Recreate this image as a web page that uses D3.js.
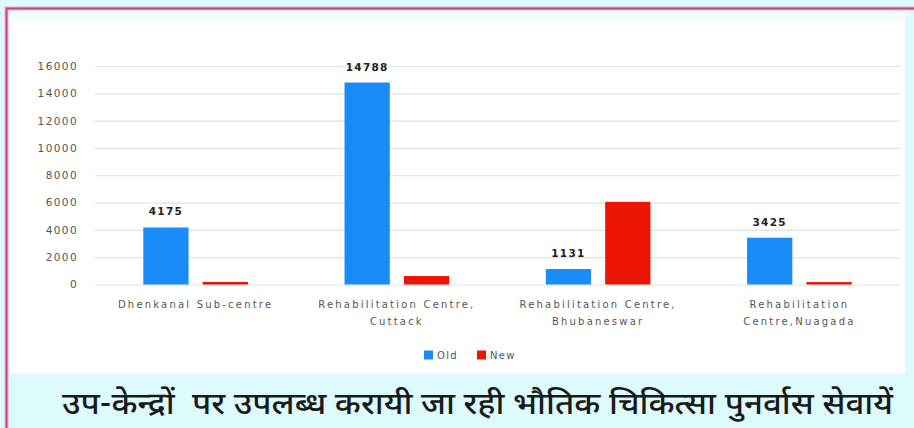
<!DOCTYPE html>
<html>
<head>
<meta charset="utf-8">
<script src="https://cdn.jsdelivr.net/npm/d3@7"></script>
<style>
  html, body { margin: 0; padding: 0; background: #ddfbfd; }
  svg { display: block; }
</style>
</head>
<body>
<svg id="chart" width="914" height="428"></svg>
<script>
const categories = [
  ["Dhenkanal Sub-centre"],
  ["Rehabilitation Centre,", "Cuttack"],
  ["Rehabilitation Centre,", "Bhubaneswar"],
  ["Rehabilitation", "Centre,Nuagada"]
];
const seriesNames = ["Old", "New"];
const oldValues = [4175, 14788, 1131, 3425];
const newValues = [190, 620, 6050, 180];
const yTicks = [0, 2000, 4000, 6000, 8000, 10000, 12000, 14000, 16000];
const title = "उप-केन्द्रों  पर उपलब्ध करायी जा रही भौतिक चिकित्सा पुनर्वास सेवायें";

const colors = { Old: "#1a8cf7", New: "#ec1505" };
const svg = d3.select("#chart");

// frame
svg.append("rect").attr("x", 0).attr("y", 0).attr("width", 914).attr("height", 428).attr("fill", "#ddfbfd");
const grad = svg.append("defs").append("linearGradient").attr("id", "topg").attr("x1", 0).attr("y1", 0).attr("x2", 0).attr("y2", 1);
grad.append("stop").attr("offset", "0%").attr("stop-color", "#e6fcfb");
grad.append("stop").attr("offset", "100%").attr("stop-color", "#ffffff");
svg.append("rect").attr("x", 9).attr("y", 10).attr("width", 896).attr("height", 364).attr("fill", "#ffffff");
svg.append("rect").attr("x", 9).attr("y", 10).attr("width", 896).attr("height", 14).attr("fill", "url(#topg)");
// pink border
svg.append("path").attr("d", "M6.5,428 V8.5 H914").attr("fill", "none").attr("stroke", "#f4b0d2").attr("stroke-width", 4);
svg.append("path").attr("d", "M6.5,428 V8.5 H914").attr("fill", "none").attr("stroke", "#c24a80").attr("stroke-width", 2);

const y = d3.scaleLinear().domain([0, 16000]).range([284.5, 66]);
const x0 = d3.scaleBand().domain(d3.range(categories.length)).range([95, 900]).paddingInner(0.48).paddingOuter(0.24);
const x1 = d3.scaleBand().domain(seriesNames).range([0, x0.bandwidth()]).paddingInner(0.237);

// grid
const yAxis = d3.axisLeft(y).tickValues(yTicks).tickSize(-(900 - 95)).tickPadding(17).tickFormat(d3.format("d"));
const gy = svg.append("g").attr("transform", "translate(95,0)").call(yAxis);
gy.select(".domain").remove();
gy.selectAll(".tick line").attr("stroke", "#e2e2e2").attr("stroke-width", 1.2);
gy.selectAll(".tick text").attr("fill", "#555").attr("font-family", "DejaVu Sans, sans-serif")
  .attr("font-size", 10.5).attr("letter-spacing", 1.4);

// bars
const rows = categories.map((c, i) => ({ i, Old: oldValues[i], New: newValues[i] }));
const groups = svg.append("g").selectAll("g").data(rows).join("g")
  .attr("transform", d => `translate(${x0(d.i)},0)`);
groups.selectAll("rect").data(d => seriesNames.map(k => ({ k, v: d[k] }))).join("rect")
  .attr("x", d => x1(d.k)).attr("width", x1.bandwidth())
  .attr("y", d => y(d.v)).attr("height", d => y(0) - y(d.v))
  .attr("fill", d => colors[d.k]);

// data labels for Old
groups.append("text")
  .attr("x", x1("Old") + x1.bandwidth() / 2)
  .attr("y", d => y(d.Old) - 12)
  .attr("text-anchor", "middle")
  .attr("font-family", "DejaVu Sans, sans-serif").attr("font-weight", "bold")
  .attr("font-size", 10.5).attr("letter-spacing", 1.3).attr("fill", "#222")
  .text(d => d.Old);

// category labels
const gx = svg.append("g");
categories.forEach((lines, i) => {
  const cx = x0(i) + x0.bandwidth() / 2;
  const t = gx.append("text").attr("text-anchor", "middle")
    .attr("font-family", "DejaVu Sans, sans-serif").attr("font-size", 10)
    .attr("letter-spacing", 2.2).attr("fill", "#555");
  lines.forEach((l, j) => {
    t.append("tspan").attr("x", cx).attr("y", 308 + j * 17).text(l);
  });
});

// legend
const legend = svg.append("g").attr("transform", "translate(424,355)");
const lx = [0, 53];
seriesNames.forEach((s, i) => {
  legend.append("rect").attr("x", lx[i]).attr("y", -4.5).attr("width", 9).attr("height", 9).attr("fill", colors[s]);
  legend.append("text").attr("x", lx[i] + 13).attr("y", 4)
    .attr("font-family", "DejaVu Sans, sans-serif").attr("font-size", 10)
    .attr("letter-spacing", 1.3).attr("fill", "#555").text(s);
});

// title
svg.append("text").attr("x", 62).attr("y", 414)
  .attr("font-family", "Noto Sans Devanagari, Noto Sans, sans-serif")
  .attr("font-size", 31).attr("font-weight", 500).attr("fill", "#1a1a1a")
  .attr("textLength", 831).attr("lengthAdjust", "spacingAndGlyphs")
  .style("white-space", "pre")
  .text(title);
</script>
</body>
</html>
